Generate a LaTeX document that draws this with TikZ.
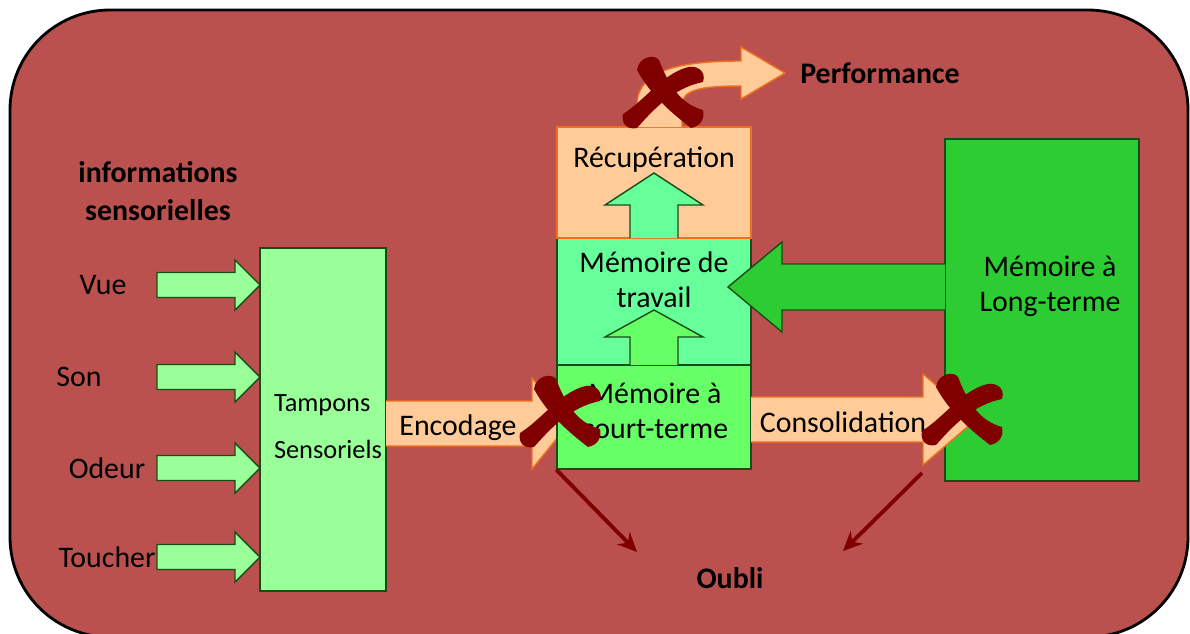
\documentclass[tikz,border=0pt]{standalone}
\usepackage{fontspec}
\setmainfont{Carlito}
\usetikzlibrary{arrows.meta}

\definecolor{fond}{RGB}{187,81,79}
\definecolor{vertclair}{RGB}{153,255,153}
\definecolor{vertcourt}{RGB}{102,255,102}
\definecolor{verttravail}{RGB}{102,255,153}
\definecolor{vertlong}{RGB}{46,204,51}
\definecolor{vertfonce}{RGB}{25,75,25}
\definecolor{peche}{RGB}{255,204,153}
\definecolor{bordorange}{RGB}{240,110,30}
\definecolor{rougesombre}{RGB}{128,0,0}

\tikzset{
    croix/.pic={
        \fill[rougesombre] (-26,-26) .. controls (-24,-40) and (-8,-42) .. (-4,-36) .. controls (6,-10) and (18,8) .. (40,14)
            .. controls (42,22) and (38,30) .. (28,32) .. controls (10,18) and (-12,0) .. (-26,-26) -- cycle;
        \fill[rougesombre] (22,-28) .. controls (32,-32) and (44,-26) .. (40,-14) .. controls (10,-8) and (-10,14) .. (-26,32)
            .. controls (-36,34) and (-42,28) .. (-40,18) .. controls (-18,4) and (-2,-20) .. (22,-28) -- cycle;
    }
}

\begin{document}
\begin{tikzpicture}[x=0.02cm,y=-0.02cm,
        boite/.style={draw=vertfonce,line width=0.8pt},
        bloc/.style={draw=vertfonce,line width=0.8pt},
        pechebloc/.style={fill=peche,draw=bordorange,line width=0.8pt},
        texte/.style={font=\fontsize{17}{20}\selectfont,align=center},
        gras/.style={font=\fontsize{17}{21.5}\selectfont\bfseries,align=center},
        oubli/.style={draw=rougesombre,line width=2.2pt,-{Stealth[length=11pt,width=10pt]}}]
        \useasboundingbox (0,0) rectangle (1190,633);
        \draw[fill=fond,line width=1.6pt,rounded corners=2cm] (10,10) rectangle (1188,637);

        % entrees sensorielles
        \node[gras] (infos) at (158,191) {informations\\sensorielles};
        \node[boite,fill=vertclair,minimum width=2.52cm,minimum height=6.86cm] (tampons) at (323,419.5) {};
        \foreach \nom/\y/\xl in {Vue/285/103,Son/377/79,Odeur/468/107,Toucher/557/107} {
            \draw[bloc,fill=vertclair] (157,\y-12.5) -- (235,\y-12.5) -- (235,\y-25) -- (260,\y) -- (235,\y+25) -- (235,\y+12.5) -- (157,\y+12.5) -- cycle;
            \node[texte] (\nom) at (\xl,\y) {\nom};
        }
        \node[font=\fontsize{15}{26.6}\selectfont,align=left] (tamponstxt) at (328,426.5) {Tampons\\Sensoriels};

        % encodage
        \path[pechebloc] (386,401) -- (532,401) -- (532,378) -- (569,423.5) -- (532,469) -- (532,446) -- (386,446);
        \node[texte] (encodage) at (458,428) {Encodage};

        % memoires
        \node[boite,fill=vertcourt,minimum width=3.88cm,minimum height=2.08cm] (court) at (654,417) {};
        \node[boite,fill=verttravail,minimum width=3.88cm,minimum height=2.54cm] (travail) at (654,301.5) {};
        \path[bloc,fill=vertcourt] (630,365) -- (630,337) -- (605,337) -- (654,310) -- (703,337) -- (678,337) -- (678,365);
        \node[pechebloc,minimum width=3.88cm,minimum height=2.22cm] (recup) at (654,182.5) {};
        \path[bloc,fill=verttravail] (630,238) -- (630,205) -- (605,205) -- (654,173) -- (703,205) -- (678,205) -- (678,238);
        \node[boite,fill=vertlong,minimum width=3.88cm,minimum height=6.84cm] (long) at (1042,310) {};
        \path[bloc,fill=vertlong] (945,264) -- (782,264) -- (782,242) -- (728,287) -- (782,332) -- (782,310) -- (945,310);
        \path[pechebloc] (751,397) -- (923,397) -- (923,374) -- (976,419.5) -- (923,465) -- (923,442) -- (751,442);

        \node[texte] (courttxt) at (655,411) {Mémoire à\\court-terme};
        \node[texte] (travailtxt) at (654,279.5) {Mémoire de\\travail};
        \node[texte] (recuptxt) at (654,160) {Récupération};
        \node[texte] (longtxt) at (1050,286.5) {Mémoire à\\Long-terme};
        \node[texte] (consolidation) at (843,422) {Consolidation};

        % performance
        \path[pechebloc] (637,127) -- (637,105) .. controls (637,70) and (680,61) .. (741,61) -- (741,47) -- (785,73) -- (741,99) -- (741,86) .. controls (700,86) and (682,90) .. (682,105) -- (682,127);
        \node[gras] (perf) at (880,73) {Performance};

        % blocages
        \pic at (663,96) {croix};
        \pic at (560,415) {croix};
        \pic at (962,413) {croix};

        % oubli
        \node[gras] (oubli) at (730,578) {Oubli};
        \coordinate (oubliG) at (637,552);
        \coordinate (departD) at (922,473);
        \coordinate (oubliD) at (843,551);
        \draw[oubli] (court.south west) -- (oubliG);
        \draw[oubli] (departD) -- (oubliD);
    \end{tikzpicture}
\end{document}
